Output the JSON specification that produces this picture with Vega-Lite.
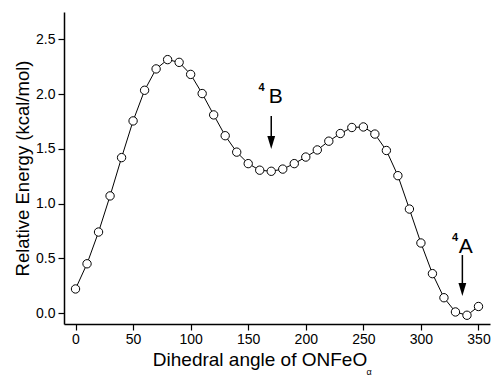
{
  "$schema": "https://vega.github.io/schema/vega-lite/v6.json",
  "width": 426,
  "height": 312,
  "autosize": {"type": "none"},
  "padding": {"left": 64, "top": 12, "right": 1, "bottom": 53},
  "background": "white",
  "config": {"view": {"stroke": null}, "font": "Liberation Sans"},
  "datasets": {
    "energy": [
      {"angle": 0, "energy": 0.22}, {"angle": 10, "energy": 0.45}, {"angle": 20, "energy": 0.74},
      {"angle": 30, "energy": 1.07}, {"angle": 40, "energy": 1.42}, {"angle": 50, "energy": 1.755},
      {"angle": 60, "energy": 2.035}, {"angle": 70, "energy": 2.23}, {"angle": 80, "energy": 2.315},
      {"angle": 90, "energy": 2.29}, {"angle": 100, "energy": 2.18}, {"angle": 110, "energy": 2.005},
      {"angle": 120, "energy": 1.81}, {"angle": 130, "energy": 1.62}, {"angle": 140, "energy": 1.47},
      {"angle": 150, "energy": 1.365}, {"angle": 160, "energy": 1.305}, {"angle": 170, "energy": 1.295},
      {"angle": 180, "energy": 1.315}, {"angle": 190, "energy": 1.365}, {"angle": 200, "energy": 1.425},
      {"angle": 210, "energy": 1.49}, {"angle": 220, "energy": 1.57}, {"angle": 230, "energy": 1.64},
      {"angle": 240, "energy": 1.695}, {"angle": 250, "energy": 1.7}, {"angle": 260, "energy": 1.635},
      {"angle": 270, "energy": 1.485}, {"angle": 280, "energy": 1.255}, {"angle": 290, "energy": 0.95},
      {"angle": 300, "energy": 0.64}, {"angle": 310, "energy": 0.36}, {"angle": 320, "energy": 0.14},
      {"angle": 330, "energy": 0.01}, {"angle": 340, "energy": -0.02}, {"angle": 350, "energy": 0.06}
    ],
    "arrows": [
      {"angle": 170, "from": 1.8, "to": 1.557},
      {"angle": 336, "from": 0.53, "to": 0.215}
    ],
    "letters": [
      {"angle": 174, "energy": 1.918, "text": "B"},
      {"angle": 339, "energy": 0.545, "text": "A"}
    ],
    "supers": [
      {"angle": 161.5, "energy": 2.027, "text": "4"},
      {"angle": 329.6, "energy": 0.657, "text": "4"}
    ],
    "sub": [
      {"angle": 255, "energy": -0.58, "text": "α"}
    ]
  },
  "layer": [
    {
      "data": {"name": "energy"},
      "mark": {"type": "line", "color": "black", "strokeWidth": 1, "clip": false},
      "encoding": {
        "x": {
          "field": "angle", "type": "quantitative",
          "scale": {"domain": [-10, 360], "nice": false, "zero": false},
          "axis": {
            "values": [0, 25, 50, 75, 100, 125, 150, 175, 200, 225, 250, 275, 300, 325, 350],
            "labelExpr": "datum.value % 50 === 0 ? datum.label : ''",
            "tickSize": {"expr": "datum.value % 50 === 0 ? 6 : 3"},
            "title": "Dihedral angle of ONFeO",
            "grid": false,
            "domainColor": "black", "domainWidth": 1.5,
            "tickColor": "black", "tickWidth": 1.2,
            "labelFontSize": 14, "labelColor": "black", "labelPadding": 2,
            "labelOverlap": false, "labelFlush": false,
            "titleFontSize": 19, "titleFontWeight": "normal", "titleColor": "black",
            "titlePadding": 4, "titleX": 195.5
          }
        },
        "y": {
          "field": "energy", "type": "quantitative",
          "scale": {"domain": [-0.1, 2.75], "nice": false, "zero": false},
          "axis": {
            "values": [0, 0.25, 0.5, 0.75, 1, 1.25, 1.5, 1.75, 2, 2.25, 2.5],
            "labelExpr": "datum.value % 0.5 === 0 ? format(datum.value, '.1f') : ''",
            "tickSize": {"expr": "datum.value % 0.5 === 0 ? 6 : 3"},
            "title": "Relative Energy (kcal/mol)",
            "grid": false,
            "domainColor": "black", "domainWidth": 1.5,
            "tickColor": "black", "tickWidth": 1.2,
            "labelFontSize": 14, "labelColor": "black", "labelPadding": 3,
            "labelOverlap": false, "labelFlush": false,
            "titleFontSize": 18.5, "titleFontWeight": "normal", "titleColor": "black",
            "titlePadding": 3
          }
        }
      }
    },
    {
      "data": {"name": "energy"},
      "mark": {"type": "point", "shape": "circle", "filled": true, "fill": "white", "stroke": "black", "strokeWidth": 1, "size": 70, "opacity": 1},
      "encoding": {
        "x": {"field": "angle", "type": "quantitative"},
        "y": {"field": "energy", "type": "quantitative"}
      }
    },
    {
      "data": {"name": "arrows"},
      "mark": {"type": "rule", "color": "black", "strokeWidth": 1.5},
      "encoding": {
        "x": {"field": "angle", "type": "quantitative"},
        "y": {"field": "from", "type": "quantitative"},
        "y2": {"field": "to"}
      }
    },
    {
      "data": {"name": "arrows"},
      "mark": {"type": "point", "shape": "M-0.6,-1L0.6,-1L0,1Z", "filled": true, "color": "black", "size": 169, "opacity": 1, "strokeWidth": 0},
      "encoding": {
        "x": {"field": "angle", "type": "quantitative"},
        "y": {"field": "to", "type": "quantitative"}
      }
    },
    {
      "data": {"name": "letters"},
      "mark": {"type": "text", "fontSize": 21, "color": "black", "align": "center", "baseline": "alphabetic"},
      "encoding": {
        "x": {"field": "angle", "type": "quantitative"},
        "y": {"field": "energy", "type": "quantitative"},
        "text": {"field": "text"}
      }
    },
    {
      "data": {"name": "supers"},
      "mark": {"type": "text", "fontSize": 11, "fontWeight": "bold", "color": "black", "align": "center", "baseline": "alphabetic"},
      "encoding": {
        "x": {"field": "angle", "type": "quantitative"},
        "y": {"field": "energy", "type": "quantitative"},
        "text": {"field": "text"}
      }
    },
    {
      "data": {"name": "sub"},
      "mark": {"type": "text", "fontSize": 9, "color": "black", "align": "center", "baseline": "bottom"},
      "encoding": {
        "x": {"field": "angle", "type": "quantitative"},
        "y": {"field": "energy", "type": "quantitative"},
        "text": {"field": "text"}
      }
    }
  ]
}
